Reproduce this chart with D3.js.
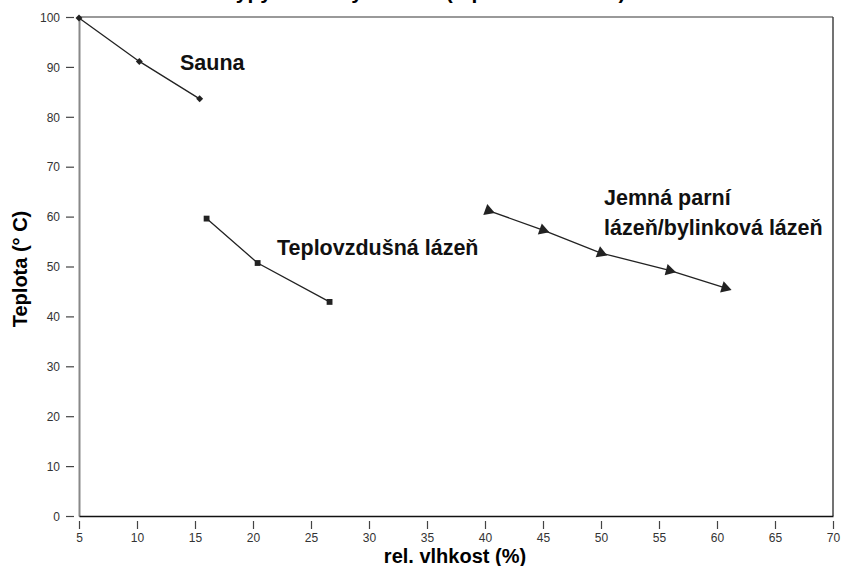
<!DOCTYPE html>
<html><head><meta charset="utf-8">
<script src="https://cdn.jsdelivr.net/npm/d3@7"></script>
<style>body{margin:0;background:#fff}svg{display:block}</style>
</head><body>
<script>
const xTicks = [5,10,15,20,25,30,35,40,45,50,55,60,65,70];
const yTicks = [0,10,20,30,40,50,60,70,80,90,100];
const saunaX = [5, 10.2, 15.4];
const saunaY = [99.8, 91.1, 83.6];
const teploX = [16.0, 20.4, 26.6];
const teploY = [59.6, 50.7, 42.9];
const jemnaX = [40.3, 45.0, 50.0, 55.9, 60.7];
const jemnaY = [61.2, 57.3, 52.7, 49.2, 45.7];
const title = "Typy saunových lázní (teplota a vlhkost)";

const W = 841, H = 566;
const svg = d3.select("body").append("svg").attr("width", W).attr("height", H);
const font = "'Liberation Sans', Arial, Helvetica, sans-serif";
const x = d3.scaleLinear().domain([5,70]).range([79,833]);
const y = d3.scaleLinear().domain([0,100]).range([516,17]);

// title (clipped at top, as in the reference)
svg.append("text").attr("x", 425).attr("y", -1).attr("text-anchor","middle")
  .attr("font-family", font).attr("font-weight","bold").attr("font-size",21).text(title);

// frame
svg.append("line").attr("x1",x(5)).attr("x2",x(70)).attr("y1",y(100)).attr("y2",y(100)).attr("stroke","#777").attr("stroke-width",1.5);
svg.append("line").attr("x1",x(70)).attr("x2",x(70)).attr("y1",y(100)).attr("y2",y(0)).attr("stroke","#444").attr("stroke-width",1.5);

// axes
const yAxis = d3.axisLeft(y).tickValues(yTicks).tickSize(0).tickPadding(0);
const gy = svg.append("g").attr("transform",`translate(${x(5)},0)`).call(yAxis);
gy.select(".domain").attr("stroke","#888").attr("stroke-width",2);
gy.selectAll(".tick line").attr("x1",-13).attr("x2",-5).attr("stroke","#444").attr("stroke-width",1.2);
gy.selectAll(".tick text").attr("x",-19).attr("dy","0.35em").attr("font-family",font).attr("font-size",12).attr("fill","#333");

const xAxis = d3.axisBottom(x).tickValues(xTicks).tickSize(0).tickPadding(0);
const gx = svg.append("g").attr("transform",`translate(0,${y(0)})`).call(xAxis);
gx.select(".domain").attr("stroke","#111").attr("stroke-width",1.5);
gx.selectAll(".tick line").attr("y1",5).attr("y2",13).attr("stroke","#444").attr("stroke-width",1.2);
gx.selectAll(".tick text").attr("y",17).attr("dy","0.71em").attr("font-family",font).attr("font-size",12).attr("fill","#333");

// axis titles
svg.append("text").attr("x",455).attr("y",563).attr("text-anchor","middle")
  .attr("font-family",font).attr("font-weight","bold").attr("font-size",20).text("rel. vlhkost (%)");
svg.append("text").attr("transform","translate(27,269) rotate(-90)").attr("text-anchor","middle")
  .attr("font-family",font).attr("font-weight","bold").attr("font-size",20).text("Teplota (° C)");

const line = d3.line().x(d=>x(d[0])).y(d=>y(d[1]));
function series(xs, ys, sym, size, mode){
  const pts = xs.map((v,i)=>[v, ys[i]]);
  svg.append("path").datum(pts).attr("d",line).attr("fill","none").attr("stroke","#222").attr("stroke-width",1.3);
  svg.selectAll(null).data(pts).enter().append("path")
    .attr("d", d3.symbol().type(sym).size(size))
    .attr("fill","#222")
    .attr("transform",(d,i)=>{
      let a = 0;
      if (mode === "dir"){
        const p0 = pts[Math.max(0,i-1)], p1 = pts[Math.min(pts.length-1, i===0?1:i)];
        a = Math.atan2(y(p1[1])-y(p0[1]), x(p1[0])-x(p0[0]))*180/Math.PI + 90;
      } else if (mode === "diamond") a = 45;
      return `translate(${x(d[0])},${y(d[1])}) rotate(${a})`;
    });
}
series(saunaX, saunaY, d3.symbolSquare, 24, "diamond");
series(teploX, teploY, d3.symbolSquare, 34, "none");
series(jemnaX, jemnaY, d3.symbolTriangle, 60, "dir");

// labels
const lab = (t, lx, ly) => svg.append("text").attr("x",lx).attr("y",ly).attr("font-family",font)
  .attr("font-weight","bold").attr("font-size",21.5).attr("fill","#111").text(t);
lab("Sauna", 180, 70);
lab("Teplovzdušná lázeň", 277, 255);
lab("Jemná parní", 604, 205);
lab("lázeň/bylinková lázeň", 604, 235);
</script>
</body></html>
